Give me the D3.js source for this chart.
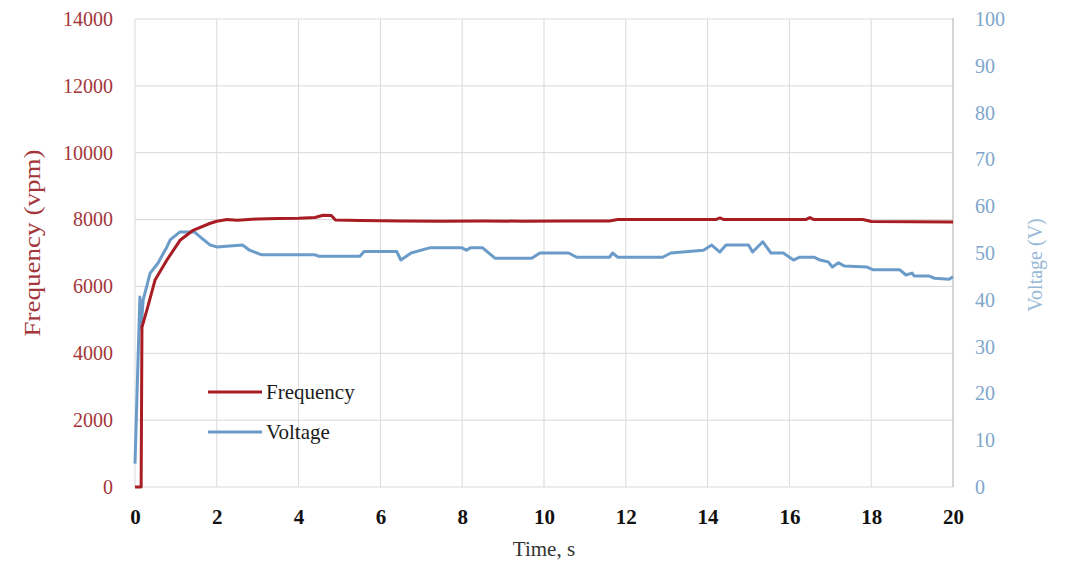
<!DOCTYPE html>
<html>
<head>
<meta charset="utf-8">
<script src="https://cdn.jsdelivr.net/npm/d3@7"></script>
<style>
  body { margin: 0; background: white; }
  svg { display: block; font-family: "Liberation Serif", "Times New Roman", serif; }
</style>
</head>
<body>
<div id="chart"></div>
<script>
const width = 1071;
const height = 563;
const margin = { top: 19, right: 118, bottom: 76, left: 135 };
const serif = "Liberation Serif, Times New Roman, serif";

const timeTicks = [0, 2, 4, 6, 8, 10, 12, 14, 16, 18, 20];
const freqTicks = [0, 2000, 4000, 6000, 8000, 10000, 12000, 14000];
const voltTicks = [0, 10, 20, 30, 40, 50, 60, 70, 80, 90, 100];

// frequency trace (vpm)
const freqTime = [0, 0.15, 0.17, 0.29, 0.49, 0.78, 1.1, 1.42, 1.84, 2.0, 2.25, 2.5, 3.0, 3.5, 4.0, 4.4, 4.6,
  4.8, 4.9, 5.5, 6.5, 7.5, 8.5, 9.5, 10.5, 11.6, 11.8, 13.0, 14.2, 14.3, 14.4, 15.5, 16.4, 16.5, 16.6, 17.8, 18.0, 20];
const freqValue = [0, 0, 4780, 5290, 6190, 6790, 7380, 7680, 7890, 7950, 8000, 7980, 8020, 8030, 8040, 8060, 8130,
  8120, 7990, 7970, 7960, 7950, 7960, 7950, 7960, 7960, 8000, 8000, 8000, 8050, 8000, 8000, 8000, 8060, 8000, 8000, 7940, 7930];

// voltage trace (V)
const voltTime = [0, 0.05, 0.12, 0.15, 0.2, 0.37, 0.56, 0.78, 0.86, 1.1, 1.45, 1.6, 1.84, 2.0, 2.63, 2.8, 3.1,
  4.4, 4.5, 5.5, 5.6, 6.4, 6.5, 6.75, 7.2, 8.0, 8.1, 8.2, 8.5, 8.8, 9.7, 9.9, 10.6, 10.8, 11.6, 11.68, 11.8,
  12.9, 13.1, 13.9, 14.1, 14.3, 14.45, 15.0, 15.1, 15.35, 15.55, 15.85, 16.1, 16.25, 16.6, 16.75, 16.95, 17.05,
  17.2, 17.35, 17.9, 18.05, 18.7, 18.85, 19.0, 19.05, 19.4, 19.55, 19.9, 20];
const voltValue = [5, 20, 40.6, 34, 40, 45.7, 47.8, 51.3, 52.8, 54.5, 54.5, 53.4, 51.7, 51.3, 51.7, 50.6, 49.6,
  49.6, 49.3, 49.3, 50.3, 50.3, 48.5, 50, 51.1, 51.1, 50.6, 51.1, 51.1, 48.9, 48.9, 50, 50, 49.1, 49.1, 50, 49.1,
  49.1, 50, 50.6, 51.7, 50.2, 51.7, 51.7, 50.2, 52.4, 50, 50, 48.5, 49.1, 49.1, 48.5, 48.1, 47.0,
  47.9, 47.2, 47.0, 46.4, 46.4, 45.3, 45.7, 45.1, 45.1, 44.6, 44.4, 44.9];

const series = [
  { title: "Frequency", color: "#a81c24", axis: "freq", time: freqTime, values: freqValue },
  { title: "Voltage", color: "#6b9cc9", axis: "volt", time: voltTime, values: voltValue }
];

const svg = d3.select("#chart").append("svg")
  .attr("width", width)
  .attr("height", height);

const scales = {
  x: d3.scaleLinear([0, 20], [margin.left, width - margin.right]),
  freq: d3.scaleLinear([0, 14000], [height - margin.bottom, margin.top]),
  volt: d3.scaleLinear([0, 100], [height - margin.bottom, margin.top])
};

// gridlines
svg.append("g")
  .selectAll("line")
  .data(freqTicks)
  .join("line")
  .attr("x1", scales.x(0)).attr("x2", scales.x(20))
  .attr("y1", d => scales.freq(d)).attr("y2", d => scales.freq(d))
  .attr("stroke", "#d9d9d9");
svg.append("g")
  .selectAll("line")
  .data(timeTicks)
  .join("line")
  .attr("x1", d => scales.x(d)).attr("x2", d => scales.x(d))
  .attr("y1", scales.freq(0)).attr("y2", scales.freq(14000))
  .attr("stroke", "#d9d9d9");

// plot frame on the right side
svg.append("line")
  .attr("x1", scales.x(20)).attr("x2", scales.x(20))
  .attr("y1", scales.freq(0)).attr("y2", scales.freq(14000) - 1)
  .attr("stroke", "#bfbfbf");

// axes (labels only)
const xAxis = svg.append("g")
  .attr("transform", `translate(0,${scales.freq(0) + 2})`)
  .call(d3.axisBottom(scales.x).tickValues(timeTicks).tickSize(0).tickPadding(20))
  .attr("font-family", serif);
xAxis.selectAll("text").attr("fill", "#111").style("font-size", "21px").style("font-weight", "bold");

const yLeft = svg.append("g")
  .attr("transform", `translate(${margin.left - 22},0)`)
  .call(d3.axisLeft(scales.freq).tickValues(freqTicks).tickFormat(d3.format("d")).tickSize(0).tickPadding(0))
  .attr("font-family", serif);
yLeft.selectAll("text").attr("fill", "#a3363a").style("font-size", "20px");

const yRight = svg.append("g")
  .attr("transform", `translate(${width - margin.right + 22},0)`)
  .call(d3.axisRight(scales.volt).tickValues(voltTicks).tickSize(0).tickPadding(0))
  .attr("font-family", serif);
yRight.selectAll("text").attr("fill", "#7ea6cc").style("font-size", "20px");

svg.selectAll(".domain").remove();

// axis titles
svg.append("text")
  .attr("transform", "translate(40,243) rotate(-90)")
  .attr("text-anchor", "middle")
  .attr("fill", "#a3363a")
  .attr("textLength", 187)
  .attr("lengthAdjust", "spacingAndGlyphs")
  .style("font-size", "24px")
  .text("Frequency (vpm)");

svg.append("text")
  .attr("transform", "translate(1042,265) rotate(-90)")
  .attr("text-anchor", "middle")
  .attr("fill", "#98b8d8")
  .style("font-size", "20px")
  .text("Voltage (V)");

svg.append("text")
  .attr("x", (scales.x(0) + scales.x(20)) / 2)
  .attr("y", 556)
  .attr("text-anchor", "middle")
  .attr("fill", "#333")
  .style("font-size", "21px")
  .text("Time, s");

// lines
const line = yScale => d3.line()
  .x(d => scales.x(d[0]))
  .y(d => yScale(d[1]));

svg.append("g")
  .selectAll("path")
  .data(series.slice().reverse())
  .join("path")
  .attr("fill", "none")
  .attr("stroke", d => d.color)
  .attr("stroke-width", 3)
  .attr("stroke-linejoin", "round")
  .attr("d", d => line(scales[d.axis])(d3.zip(d.time, d.values)));

// legend
const legend = svg.append("g")
  .selectAll("g")
  .data(series)
  .join("g")
  .attr("transform", (d, i) => `translate(208,${392 + i * 40})`);
legend.append("line")
  .attr("x1", 0).attr("x2", 54)
  .attr("stroke", d => d.color)
  .attr("stroke-width", 3);
legend.append("text")
  .attr("x", 58)
  .attr("dy", "0.35em")
  .attr("fill", "#1a1a1a")
  .style("font-size", "21px")
  .text(d => d.title);
</script>
</body>
</html>
